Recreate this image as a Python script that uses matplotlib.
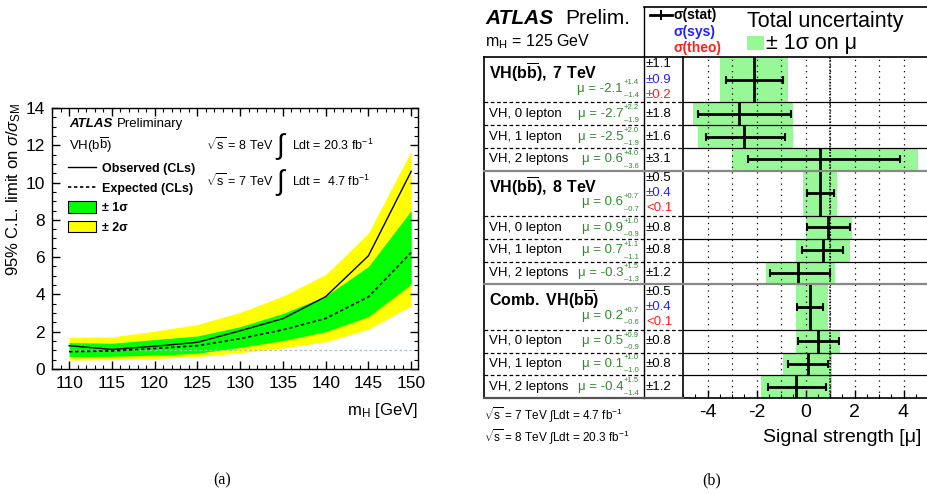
import numpy as np
import matplotlib
matplotlib.use("Agg")
import matplotlib.pyplot as plt
from matplotlib.ticker import MultipleLocator, FuncFormatter
from matplotlib.lines import Line2D
from matplotlib.patches import Patch, Rectangle

plt.rcParams['font.family'] = ['Liberation Sans', 'DejaVu Sans']
plt.rcParams['mathtext.fontset'] = 'custom'
plt.rcParams['mathtext.rm'] = 'Liberation Sans'
plt.rcParams['mathtext.it'] = 'Liberation Sans:italic'
plt.rcParams['mathtext.bf'] = 'Liberation Sans:bold'
plt.rcParams['mathtext.sf'] = 'Liberation Sans'
plt.rcParams['axes.unicode_minus'] = False

# ---- (a) limit vs mass ----
mass = [110, 115, 120, 125, 130, 135, 140, 145, 150]
observed = [1.25, 1.05, 1.22, 1.43, 2.05, 2.70, 3.88, 6.07, 10.6]
expected = [0.93, 0.97, 1.10, 1.25, 1.63, 2.10, 2.71, 3.87, 6.25]
exp_p1 = [1.42, 1.38, 1.58, 1.77, 2.27, 2.98, 3.91, 5.50, 8.50]
exp_m1 = [0.66, 0.68, 0.74, 0.84, 1.16, 1.52, 2.00, 2.81, 4.55]
exp_p2 = [1.70, 1.72, 2.03, 2.39, 3.04, 3.91, 5.07, 7.29, 11.7]
exp_m2 = [0.48, 0.50, 0.56, 0.66, 0.875, 1.125, 1.46, 2.13, 3.39]

# ---- (b) signal strength ----
row_labels = [r'$\mathbf{VH(b\overline{b}),\ 7\ TeV}$', 'VH, 0 lepton', 'VH, 1 lepton', 'VH, 2 leptons',
              r'$\mathbf{VH(b\overline{b}),\ 8\ TeV}$', 'VH, 0 lepton', 'VH, 1 lepton', 'VH, 2 leptons',
              r'$\mathbf{Comb.\ VH(b\overline{b})}$', 'VH, 0 lepton', 'VH, 1 lepton', 'VH, 2 leptons']
is_header = [True, False, False, False, True, False, False, False, True, False, False, False]
mu = [-2.1, -2.7, -2.5, 0.6, 0.6, 0.9, 0.7, -0.3, 0.2, 0.5, 0.1, -0.4]
tot_up = [1.4, 2.2, 2.0, 4.0, 0.7, 1.0, 1.1, 1.5, 0.7, 0.9, 1.0, 1.5]
tot_dn = [1.4, 1.9, 1.9, 3.6, 0.7, 0.9, 1.1, 1.3, 0.6, 0.9, 1.0, 1.4]
stat_dn = [1.15, 1.7, 1.55, 2.95, 0.55, 0.85, 0.85, 1.15, 0.55, 0.8, 0.8, 1.15]
stat_up = [1.2, 2.1, 1.65, 3.25, 0.55, 0.9, 0.85, 1.3, 0.5, 0.85, 0.8, 1.25]
stat_txt = ['1.1', '1.8', '1.6', '3.1', '0.5', '0.8', '0.8', '1.2', '0.5', '0.8', '0.8', '1.2']
sys_txt = ['±0.9', '±0.4', '±0.4']
theo_txt = ['±0.2', '<0.1', '<0.1']

W, H = 927, 494
fig = plt.figure(figsize=(W / 100, H / 100), dpi=100)


def box(l, t, r, b):
    return [l / W, 1 - b / H, (r - l) / W, (b - t) / H]


def fx(x):
    return x / W


def fy(y):
    return 1 - y / H


# ================= left panel =================
ax = fig.add_axes(box(52, 108, 418, 369))
ax.fill_between(mass, exp_m2, exp_p2, color='#ffff00', lw=0)
ax.fill_between(mass, exp_m1, exp_p1, color='#00ff00', lw=0)
ax.hlines(1, mass[0], mass[-1], color='#a8bccf', ls=(0, (2, 2)), lw=0.9)
ax.plot(mass, expected, color='k', ls=(0, (2, 1.6)), lw=1.2)
ax.plot(mass, observed, color='k', lw=1.0)
ax.set_xlim(108, 150.8)
ax.set_ylim(0, 14)
ax.xaxis.set_major_locator(MultipleLocator(5))
ax.xaxis.set_minor_locator(MultipleLocator(1))
ax.yaxis.set_major_locator(MultipleLocator(2))
ax.yaxis.set_minor_locator(MultipleLocator(0.5))
ax.tick_params(which='both', direction='in', top=True, right=True, labelsize=12.5, pad=5)
ax.tick_params(which='major', length=6, width=1)
ax.tick_params(which='minor', length=3, width=0.8)
for s in ax.spines.values():
    s.set_linewidth(1)

fig.text(fx(14), fy(103), r'95% C.L. limit on $\sigma/\sigma_\mathrm{SM}$', rotation=90,
         ha='center', va='top', fontsize=12)
fig.text(fx(418), fy(410), r'm$_\mathrm{H}$ [GeV]', ha='right', va='center', fontsize=12)

fig.text(fx(69), fy(124), 'ATLAS', fontsize=9.5, weight='bold', style='italic', va='center')
fig.text(fx(117), fy(124), 'Preliminary', fontsize=9.5, va='center')
fig.text(fx(69), fy(145), r'VH(b$\overline{\mathrm{b}}$)', fontsize=9.5, va='center')

fig.text(fx(206), fy(145), r'$\sqrt{\mathrm{s}}$ = 8 TeV', fontsize=9, va='center')
fig.text(fx(276), fy(147), '∫', fontsize=20, va='center')
fig.text(fx(292), fy(145), r'Ldt = 20.3 fb$^{-1}$', fontsize=9, va='center')
fig.text(fx(206), fy(181), r'$\sqrt{\mathrm{s}}$ = 7 TeV', fontsize=9, va='center')
fig.text(fx(276), fy(183), '∫', fontsize=20, va='center')
fig.text(fx(292), fy(181), r'Ldt =  4.7 fb$^{-1}$', fontsize=9, va='center')

handles = [Line2D([], [], color='k', lw=1.0),
           Line2D([], [], color='k', ls=(0, (2, 1.6)), lw=1.2),
           Patch(facecolor='#00ff00', edgecolor='k', lw=0.8),
           Patch(facecolor='#ffff00', edgecolor='k', lw=0.8)]
labels = ['Observed (CLs)', 'Expected (CLs)', '± 1σ', '± 2σ']
ax.legend(handles, labels, loc='upper left', bbox_to_anchor=(fx(68), fy(162)),
          bbox_transform=fig.transFigure, frameon=False, prop={'weight': 'bold', 'size': 9},
          handlelength=2.2, handleheight=1.0, handletextpad=0.5, labelspacing=0.55,
          borderpad=0, borderaxespad=0)

fig.text(fx(222), fy(480), '(a)', fontsize=11.5, family='Liberation Serif', ha='center', va='center')

# ================= right panel =================
heights = [2 if h else 1 for h in is_header]
tops = np.concatenate([[0], np.cumsum(heights)[:-1]])
centers = tops + np.array(heights) / 2
total = sum(heights)
green = '#98f898'

axp = fig.add_axes(box(683, 57, 928, 398))
axp.barh(centers, np.array(tot_up) + np.array(tot_dn), left=np.array(mu) - np.array(tot_dn),
         height=heights, color=green, lw=0, zorder=1)
for v in range(-4, 5):
    axp.axvline(v, color='k', ls=(0, (1, 3.5)), lw=0.9, zorder=2)
axp.axvline(1, color='k', ls=(0, (1, 1)), lw=1.1, zorder=2)
axp.vlines(mu, tops, tops + np.array(heights), color='k', lw=2, zorder=4)
axp.errorbar(mu, centers, xerr=[stat_dn, stat_up], fmt='none', ecolor='k', elinewidth=2,
             capsize=3, capthick=1.5, zorder=4)
for i in range(1, len(heights)):
    if is_header[i]:
        axp.axhline(tops[i], color='#888888', lw=1.6, zorder=5)
    else:
        axp.axhline(tops[i], color='k', lw=0.9, zorder=5)
axp.set_xlim(-5, 5)
axp.set_ylim(total, 0)
axp.xaxis.set_major_locator(MultipleLocator(2))
axp.xaxis.set_minor_locator(MultipleLocator(0.5))
axp.xaxis.set_major_formatter(FuncFormatter(lambda v, p: f'{v:.0f}'))
axp.set_yticks([])
axp.tick_params(which='both', direction='in', labelsize=14, pad=4)
axp.tick_params(which='major', length=6, width=1)
axp.tick_params(which='minor', length=3, width=0.8)
axp.spines['right'].set_visible(False)
for s in ['left', 'top', 'bottom']:
    axp.spines[s].set_linewidth(1.2)

fig.text(fx(921), fy(437), 'Signal strength [μ]', ha='right', va='center', fontsize=14)

# table columns
axt = fig.add_axes(box(484, 57, 683, 398))
axt.set_xlim(484, 683)
axt.set_ylim(total, 0)
axt.axis('off')
axt.plot([484, 484], [0, total], color='k', lw=1.2, clip_on=False)
axt.plot([644, 644], [0, total], color='k', lw=1.0, clip_on=False)
axt.plot([484, 683], [0, 0], color='k', lw=1.2, clip_on=False)
axt.plot([484, 683], [total, total], color='#555555', lw=1.6, clip_on=False)
for i in range(1, len(heights)):
    if is_header[i]:
        axt.plot([484, 683], [tops[i], tops[i]], color='#888888', lw=1.6, clip_on=False)
    else:
        axt.plot([484, 683], [tops[i], tops[i]], color='k', lw=0.9, ls=(0, (3, 2)), clip_on=False)

mu_col = '#2f8a2f'
h_idx = 0
for i in range(len(mu)):
    if is_header[i]:
        ym = tops[i] + 1.4
        axt.text(489, tops[i] + 0.68, row_labels[i], fontsize=11.5, va='center')
        axt.text(646, tops[i] + 0.32, '±' + stat_txt[i], fontsize=9.5, va='center')
        axt.text(646, tops[i] + 1.0, sys_txt[h_idx], fontsize=9.5, va='center', color='#2222ff')
        axt.text(646, tops[i] + 1.66, theo_txt[h_idx], fontsize=9.5, va='center', color='#ff2020')
        h_idx += 1
    else:
        ym = centers[i]
        axt.text(489, ym, row_labels[i], fontsize=9.5, va='center')
        axt.text(646, ym, '±' + stat_txt[i], fontsize=9.5, va='center')
    axt.text(623, ym, f'μ = {mu[i]:.1f}', fontsize=9.5, color=mu_col, ha='right', va='center')
    axt.text(624, ym - 0.27, f'+{tot_up[i]:.1f}', fontsize=5.5, color=mu_col, ha='left', va='center')
    axt.text(624, ym + 0.3, f'\u2013{tot_dn[i]:.1f}', fontsize=5.5, color=mu_col, ha='left', va='center')

# header / legend box
fig.text(fx(485), fy(18), 'ATLAS', fontsize=15, weight='bold', style='italic', va='center')
fig.text(fx(565), fy(18), 'Prelim.', fontsize=15, va='center')
fig.text(fx(485), fy(42), r'm$_\mathrm{H}$ = 125 GeV', fontsize=11.5, va='center')

fig.add_artist(Line2D([fx(644), 1], [fy(7.5), fy(7.5)], color='k', lw=1.2))
fig.add_artist(Line2D([fx(644), fx(644)], [fy(7.5), fy(57)], color='k', lw=1.0))
fig.add_artist(Line2D([fx(650), fx(672)], [fy(15), fy(15)], color='k', lw=2))
fig.add_artist(Line2D([fx(661), fx(661)], [fy(11), fy(19)], color='k', lw=1.5))
fig.text(fx(673), fy(15), 'σ(stat)', fontsize=10, weight='bold', va='center')
fig.text(fx(674), fy(32), 'σ(sys)', fontsize=10, weight='bold', va='center', color='#2222ff')
fig.text(fx(674), fy(48), 'σ(theo)', fontsize=10, weight='bold', va='center', color='#ff2020')
fig.text(fx(747), fy(21), 'Total uncertainty', fontsize=15.5, va='center')
fig.add_artist(Rectangle((fx(747), fy(50)), (764 - 747) / W, 14 / H, transform=fig.transFigure,
                         facecolor=green, edgecolor='none'))
fig.text(fx(766), fy(43), '± 1σ on μ', fontsize=15.5, va='center')

fig.text(fx(484), fy(415), r'$\sqrt{\mathrm{s}}$ = 7 TeV $\int$Ldt = 4.7 fb$^{-1}$', fontsize=8.5, va='center')
fig.text(fx(484), fy(437), r'$\sqrt{\mathrm{s}}$ = 8 TeV $\int$Ldt = 20.3 fb$^{-1}$', fontsize=8.5, va='center')

fig.text(fx(712), fy(480), '(b)', fontsize=11.5, family='Liberation Serif', ha='center', va='center')

fig.savefig('out.png', dpi=100)
